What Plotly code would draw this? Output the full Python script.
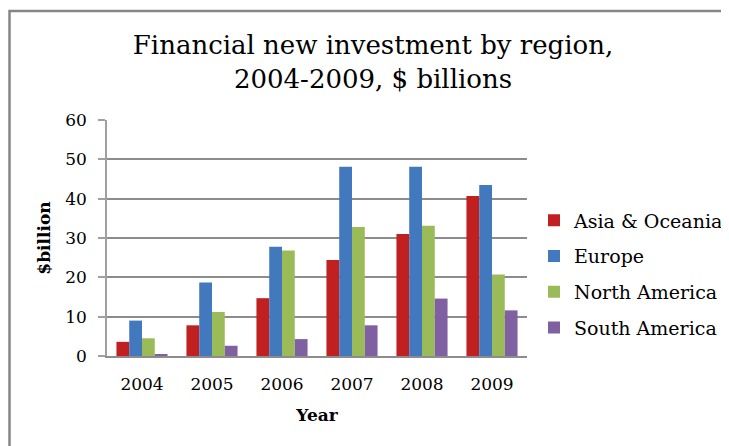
import plotly.graph_objects as go

years = ["2004", "2005", "2006", "2007", "2008", "2009"]
asia_oceania = [3.6, 7.8, 14.7, 24.4, 31.0, 40.7]
europe = [9.0, 18.7, 27.8, 48.1, 48.1, 43.5]
north_america = [4.5, 11.2, 26.8, 32.8, 33.1, 20.7]
south_america = [0.4, 2.6, 4.3, 7.8, 14.6, 11.6]

series_names = ["Asia & Oceania", "Europe", "North America", "South America"]
series_values = [asia_oceania, europe, north_america, south_america]
colors = ["#C0201F", "#4178BE", "#9BBB59", "#7F60A0"]

FONT = "DejaVu Serif"
W, H = 729, 446
OFF = 8  # page body margin offset
# target plot area in screen pixels: x 107..527, y 120..356
L, T = 107 - OFF, 120 - OFF
R = W - (527 - OFF)
B = H - (356 - OFF)
PW, PH = W - L - R, H - T - B

fig = go.Figure()
for name, vals, c in zip(series_names, series_values, colors):
    fig.add_trace(go.Bar(x=years, y=vals, name=name, marker=dict(color=c, line=dict(width=0)),
                         legendgroup=name))

def px2x(px):
    return (px - OFF - L) / PW

def py2y(py):
    return (H - B - (py - OFF)) / PH

# outer chart border (left and top edges visible)
fig.add_shape(type="path", xref="paper", yref="paper",
              path=f"M {px2x(9.5)} {py2y(470)} L {px2x(9.5)} {py2y(11)} L {px2x(760)} {py2y(11)}",
              line=dict(color="#868686", width=2.5), layer="above")

fig.update_layout(
    width=W, height=H,
    margin=dict(l=L, r=R, t=T, b=B, autoexpand=False),
    paper_bgcolor="white", plot_bgcolor="white",
    font=dict(family=FONT, color="black"),
    barmode="group", bargap=0.27, bargroupgap=0,
    title=dict(text="Financial new investment by region,<br>2004-2009, $ billions",
               x=(373 - OFF) / W, xanchor="center", xref="container",
               y=1 - (54 - OFF) / H, yanchor="top", yref="container",
               font=dict(family=FONT, size=26, color="black")),
    legend=dict(x=px2x(534), xanchor="left", y=py2y(274), yanchor="middle",
                font=dict(family=FONT, size=19, color="black"),
                traceorder="grouped", tracegroupgap=8, bgcolor="rgba(0,0,0,0)"),
    xaxis=dict(title=dict(text="<b>Year</b>", font=dict(family=FONT, size=17), standoff=16),
               tickfont=dict(family=FONT, size=17), showline=True, linecolor="#8C8C8C",
               linewidth=1.5, ticks="", ticklabelstandoff=12, automargin=False),
    yaxis=dict(title=dict(text="<b>$billion</b>", font=dict(family=FONT, size=17), standoff=10),
               range=[0, 60], dtick=10, tickfont=dict(family=FONT, size=17),
               showgrid=True, gridcolor="#8C8C8C", gridwidth=1.5,
               showline=True, linecolor="#A0A0A0", linewidth=1.5,
               ticks="outside", ticklen=7, tickcolor="#A0A0A0", tickwidth=1.5,
               zeroline=False, ticklabelstandoff=8, automargin=False),
)

fig.write_html("out.html")
